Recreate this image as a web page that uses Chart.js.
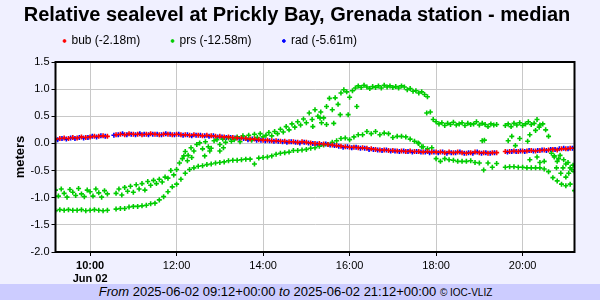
<!DOCTYPE html>
<html>
<head>
<meta charset="utf-8">
<script src="https://cdn.jsdelivr.net/npm/chart.js@4.4.1/dist/chart.umd.min.js"></script>
<style>
  html, body { margin: 0; padding: 0; background: #f0f0ff; }
  #wrap { width: 600px; height: 300px; }
  #chart { display: block; }
  #footer { height: 16px; line-height: 16px; background: #ccccff; color: #000; text-align: center;
            font: 13px 'Liberation Sans', Arial, sans-serif; white-space: nowrap; padding-right: 9px; }
  #footer small { font-size: 10px; }
</style>
</head>
<body>
<div id="wrap">
  <canvas id="chart" width="600" height="284"></canvas>
  <div id="footer"><i>From</i> 2025-06-02 09:12+00:00 <i>to</i> 2025-06-02 21:12+00:00 <small>© IOC-VLIZ</small></div>
</div>
<script>
// x axis is hours of the day (UTC), 09:12 -> 21:12
const xStart = 9.2;
const xEnd = 21.2;
const xTicks = [10, 12, 14, 16, 18, 20];
const xTickLabels = ['10:00', '12:00', '14:00', '16:00', '18:00', '20:00'];
const dayLabel = 'Jun 02';
const yTicksStep = 0.5;

const seriesNames = ['bub (-2.18m)', 'prs (-12.58m)', 'rad (-5.61m)'];

// bub: every 6 min from 09:12
const bubValues = [
  0.08, 0.09, 0.10, 0.09, 0.11, 0.10, 0.12, 0.11, 0.12, 0.13, 0.13, 0.14, 0.13,
  null,
  0.16, 0.17, 0.16, 0.18, 0.17, 0.17, 0.16, 0.17, 0.18, 0.17, 0.16, 0.17, 0.17, 0.16, 0.17,
  0.16, 0.16, 0.15, 0.16, 0.15, 0.14, 0.15, 0.14, 0.13, 0.13,
  0.12, 0.12, 0.11, 0.10, 0.10, 0.09, 0.08, 0.08, 0.07, 0.06,
  0.06, 0.05, 0.05, 0.04, 0.04, 0.03, 0.03, 0.02, 0.03, 0.02,
  0.01, 0.00, 0.00, -0.01, -0.02, -0.03, -0.04, -0.05, -0.06, -0.07,
  -0.07, -0.08, -0.08, -0.09, -0.10, -0.11, -0.12, -0.12, -0.13, -0.13,
  -0.14, -0.14, -0.15, -0.14, -0.15, -0.15, -0.16, -0.15, -0.16, -0.16,
  -0.16, -0.17, -0.16, -0.17, -0.16, -0.17, -0.18, -0.17, -0.16, -0.17, -0.17, -0.18, -0.17, -0.17,
  null,
  -0.15, -0.15, -0.14, -0.15, -0.14, -0.14, -0.13, -0.14, -0.13, -0.12, -0.12, -0.11, -0.12, -0.10, -0.10, -0.09, -0.09
];

// rad: every 6 min from 09:15
const radValues = [
  0.07, 0.09, 0.08, 0.10, 0.09, 0.11, 0.10, 0.11, 0.13, 0.12, 0.14, 0.13,
  null,
  0.15, 0.16, 0.18, 0.16, 0.17, 0.16, 0.18, 0.17, 0.16, 0.17, 0.17, 0.16, 0.18, 0.17, 0.16,
  0.17, 0.15, 0.16, 0.14, 0.15, 0.15, 0.14, 0.13, 0.14, 0.12,
  0.12, 0.11, 0.11, 0.10, 0.09, 0.09, 0.07, 0.08, 0.06, 0.06,
  0.05, 0.05, 0.04, 0.04, 0.03, 0.02, 0.03, 0.02, 0.01, 0.02,
  0.01, 0.00, -0.01, -0.02, -0.01, -0.03, -0.04, -0.05, -0.07, -0.06,
  -0.08, -0.07, -0.09, -0.09, -0.11, -0.11, -0.12, -0.13, -0.12, -0.14,
  -0.14, -0.15, -0.14, -0.15, -0.16, -0.15, -0.16, -0.16, -0.17, -0.16,
  -0.17, -0.16, -0.18, -0.17, -0.17, -0.16, -0.18, -0.17, -0.18, -0.16, -0.18, -0.17, -0.18, -0.17,
  null, null,
  -0.16, -0.15, -0.15, -0.14, -0.15, -0.13, -0.14, -0.13, -0.12, -0.13, -0.11, -0.11, -0.10, -0.09, -0.10, -0.09
];

// prs upper track: every 4 min from 09:12
const prsUpperValues = [
  -0.86, -0.97, -0.84, -0.92, -0.99, -0.85, -0.90, -0.96, -0.83, -0.93, -0.98, -0.86, -0.89, -0.97, -0.84, -0.91, -0.99, -0.87, -0.93,
  null, null,
  -0.92, -0.84, -0.95, -0.81, -0.88, -0.79, -0.90, -0.76, -0.84, -0.74, -0.86, -0.70, -0.77, -0.68, -0.74, -0.66, -0.71, -0.62, -0.64, -0.50, -0.58, -0.48,
  -0.36, -0.28, -0.15, -0.22, -0.08, -0.14, -0.02, 0.01, -0.10, 0.03, -0.06, -0.09, 0.05, 0.07, -0.02,
  0.08, 0.02, 0.10, 0.04, 0.07, 0.12, 0.03, 0.14, 0.09, 0.15, 0.06, 0.17, 0.11, 0.18, 0.12,
  0.15, 0.20, 0.14, 0.22, 0.18, 0.26, 0.21, 0.31, 0.25, 0.36, 0.30, 0.40, 0.34, 0.45, 0.38,
  0.56, 0.44, 0.62, 0.50, 0.58, 0.47, 0.68, 0.83, 0.62, 0.84, 0.72, 0.93, 0.99, 0.95, 0.85,
  0.97, 1.02, 1.06, 1.03, 1.07, 1.04, 1.01, 1.05, 1.03, 1.06, 1.02, 1.07, 1.04, 1.06, 1.03,
  1.05, 1.02, 1.06, 1.04, 0.99, 1.01, 0.96, 0.97, 0.93, 0.95, 0.90, 0.86, 0.58, 0.44, 0.40,
  0.36, 0.38, 0.33, 0.37, 0.35, 0.39, 0.34, 0.36, 0.38, 0.33, 0.37, 0.35, 0.36, 0.40, 0.34, 0.37, 0.35, 0.31, 0.36, 0.34, 0.35,
  null, null,
  0.33, 0.36, 0.31, 0.37, 0.34, 0.38, 0.33, 0.36, 0.40, 0.35, 0.37, 0.44, 0.34, 0.36, 0.25, 0.13,
  -0.18, -0.25, -0.33, -0.22, -0.45, -0.38, -0.55, -0.48, -0.52
];

// prs lower track: every 6 min from 09:12
const prsLowerValues = [
  -1.24, -1.22, -1.23, -1.22, -1.23, -1.23, -1.22, -1.24, -1.23, -1.22, -1.23, -1.24, -1.23,
  null,
  -1.21, -1.20, -1.20, -1.17, -1.16, -1.16, -1.15, -1.14, -1.11, -1.10, -1.04, -0.98, -0.89, -0.80, -0.75,
  -0.66, -0.55, -0.48, -0.45, -0.42, -0.41, -0.39, -0.38, -0.36, -0.35,
  -0.34, -0.32, -0.31, -0.31, -0.30, -0.29, -0.29, -0.38, -0.27, -0.26,
  -0.25, -0.23, -0.20, -0.18, -0.17, -0.16, -0.13, -0.13, -0.12, -0.11,
  -0.09, -0.08, -0.05, -0.03, -0.02, 0.02, 0.05, 0.09, 0.10, 0.07,
  0.12, 0.16, 0.16, 0.22, 0.18, 0.22, 0.16, 0.19, 0.18, 0.11,
  0.13, 0.13, 0.12, 0.08, 0.04, 0.00, -0.06, -0.10, -0.08, -0.28,
  -0.33, -0.28, -0.30, -0.31, -0.33, -0.33, -0.33, -0.32, -0.35, -0.36, -0.49, -0.36, -0.44, -0.37,
  null,
  -0.44, -0.43, -0.43, -0.44, -0.44, -0.45, -0.45, -0.45, -0.45, -0.47, -0.52, -0.63, -0.69, -0.75, -0.78, -0.75, -0.87
];

// prs stray readings between the two tracks
const prsExtraTimes = [
  '12:10', '12:15', '12:21', '12:39', '12:46', '13:00', '13:05',
  '15:09', '15:19', '15:21', '15:28', '15:38', '15:47', '15:58', '16:10',
  '17:35', '17:40', '17:47', '19:04', '19:07',
  '19:40', '19:45', '19:50', '19:56', '20:07', '20:10', '20:10', '20:18', '20:20', '20:23', '20:24', '20:30',
  '20:44', '20:47', '20:50', '20:53', '20:57', '21:00', '21:03', '21:06', '21:10'
];
const prsExtraValues = [
  -0.23, -0.32, -0.26, -0.23, -0.14, -0.14, -0.08,
  0.31, 0.47, 0.38, 0.35, 0.37, 0.53, 0.53, 0.68,
  0.01, -0.06, 0.56, 0.05, 0.06,
  0.05, 0.13, -0.04, 0.09, 0.04, 0.16, -0.30, 0.24, -0.25, 0.30, -0.35, -0.33,
  -0.23, -0.45, -0.28, -0.55, -0.30, -0.62, -0.35, -0.45, -0.40
];

function onGrid(startHour, stepMin, values){
    return values.map((v, i) => ({ x: startHour + i * stepMin / 60, y: v }));
}

function atTimes(times, values){
    return times.map((t, i) => {
        const [h, m] = t.split(':').map(Number);
        return { x: h + m / 60, y: values[i] };
    });
}

const fontFamily = "'Liberation Sans', Arial, sans-serif";
Chart.defaults.font.family = fontFamily;
Chart.defaults.color = '#000';

const legendGap = '       ';

const plotFrame = {
    id: 'plotFrame',
    beforeDraw(chart){
        const {ctx, chartArea: a} = chart;
        ctx.save();
        ctx.fillStyle = '#fff';
        ctx.fillRect(a.left, a.top, a.width, a.height);
        ctx.restore();
    },
    afterDraw(chart){
        const {ctx, chartArea: a} = chart;
        ctx.save();
        ctx.strokeStyle = '#000';
        ctx.lineWidth = 2;
        ctx.strokeRect(a.left, a.top, a.width, a.height);
        ctx.restore();
    }
};

function pointSet(label, color, data){
    return {
        label: label,
        data: data,
        backgroundColor: color,
        borderColor: color,
        pointStyle: 'cross',
        pointRadius: 2.5,
        pointBorderWidth: 1.6,
        showLine: false
    };
}

const config = {
    type: 'scatter',
    data: {
        datasets: [
            pointSet(seriesNames[0], '#ff0000', onGrid(xStart, 6, bubValues)),
            pointSet(seriesNames[1], '#00cc00', onGrid(xStart, 4, prsUpperValues)
                .concat(onGrid(xStart, 6, prsLowerValues))
                .concat(atTimes(prsExtraTimes, prsExtraValues))),
            pointSet(seriesNames[2], '#0000ff', onGrid(xStart + 0.05, 6, radValues))
        ]
    },
    options: {
        responsive: false,
        animation: false,
        devicePixelRatio: 1,
        layout: { padding: { left: 19.5, right: 25.5, top: 0, bottom: 0 } },
        plugins: {
            tooltip: { enabled: false },
            title: {
                display: true,
                text: 'Relative sealevel at Prickly Bay, Grenada station - median',
                color: '#000',
                font: { size: 20, weight: 'bold' },
                padding: { top: 3, bottom: 0 }
            },
            legend: {
                display: true,
                position: 'top',
                align: 'start',
                fullSize: false,
                labels: {
                    color: '#000',
                    font: { size: 12 },
                    usePointStyle: true,
                    pointStyle: 'circle',
                    boxWidth: 2,
                    boxHeight: 2,
                    padding: 8,
                    generateLabels: chart => Chart.defaults.plugins.legend.labels.generateLabels(chart)
                        .map(item => Object.assign(item, { text: item.text + legendGap, lineWidth: 1 }))
                }
            },
            subtitle: {
                display: true,
                text: '',
                weight: 500,
                padding: 0,
                font: { size: 5, lineHeight: 1 }
            }
        },
        scales: {
            x: {
                type: 'linear',
                min: xStart,
                max: xEnd,
                afterFit: s => { s.height = 32; },
                afterBuildTicks: s => { s.ticks = xTicks.map(h => ({ value: h })); },
                border: { display: false },
                grid: { color: '#c8c8c8', tickColor: '#000', tickLength: 4 },
                ticks: {
                    color: '#000',
                    padding: 3,
                    maxRotation: 0,
                    autoSkip: false,
                    font: ctx => ({ family: fontFamily, size: 11, weight: ctx.index === 0 ? 'bold' : 'normal' }),
                    callback: (value, index) => index === 0 ? [xTickLabels[index], dayLabel] : xTickLabels[index]
                }
            },
            y: {
                min: -2,
                max: 1.5,
                afterFit: s => { s.width = 36; },
                border: { display: false },
                grid: { color: '#c8c8c8', tickColor: '#000', tickLength: 4 },
                ticks: {
                    stepSize: yTicksStep,
                    color: '#000',
                    padding: 2,
                    font: { size: 11 },
                    callback: v => v.toFixed(1)
                },
                title: {
                    display: true,
                    text: 'meters',
                    color: '#000',
                    font: { size: 13, weight: 'bold' },
                    padding: { top: -7.3, bottom: 0 }
                }
            }
        }
    },
    plugins: [plotFrame]
};

const seaLevelChart = new Chart(document.getElementById('chart'), config);
</script>
</body>
</html>
